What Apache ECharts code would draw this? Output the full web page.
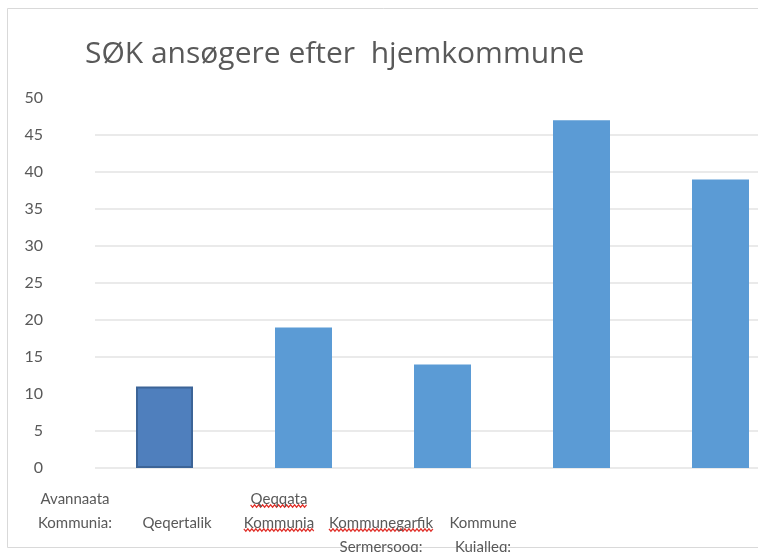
<!DOCTYPE html>
<html>
<head>
<meta charset="utf-8">
<script src="https://cdn.jsdelivr.net/npm/echarts@6/dist/echarts.min.js"></script>
<style>
  html, body { margin: 0; padding: 0; background: #fff; }
  #chart { width: 758px; height: 552px; }
</style>
</head>
<body>
<div id="chart"></div>
<script>
// data
const titleText = 'SØK ansøgere efter  hjemkommune'
const categories = ['Avannaata\nKommunia:', 'Qeqertalik', 'Qeqqata\nKommunia', 'Kommunegarfik\nSermersooq:', 'Kommune\nKujalleq:']
const values = [11, 19, 14, 47, 39]
const labelRowShift = [0, 1, 0, 1, 1] // labels that start one line lower
const yTicks = [0, 5, 10, 15, 20, 25, 30, 35, 40, 45, 50]
const gridValues = [0, 5, 15, 20, 25, 30, 35, 40, 45] // ticks that have a gridline
// words with the red spell-check underline: [category, line, word]
const spellMarks = [[2, 0, 'Qeqqata'], [2, 1, 'Kommunia'], [3, 0, 'Kommunegarfik'], [3, 1, 'Sermersooq']]

const textColor = '#595959'
const barColor = '#5b9bd5'
const gridColor = '#e3e3e3'
const labelFont = 'Lato'
const labelSize = 15
const labelMargin = 19
const lineH = 24

let chart = echarts.init(document.getElementById('chart'), null, { renderer: 'canvas' })

function getOption() {
  return {
    backgroundColor: '#fff',
    animation: false,
    title: {
      text: titleText,
      left: 80,
      top: 34,
      textStyle: { fontFamily: 'Open Sans', fontSize: 30, fontWeight: 'normal', color: textColor }
    },
    grid: [
      // the plot runs past the right edge of the picture
      { left: 95, width: 695, top: 98, bottom: 84, outerBoundsMode: 'none' },
      { left: 24, width: 510, top: 98, bottom: 84, outerBoundsMode: 'none' }
    ],
    xAxis: [
      {
        type: 'category',
        data: categories,
        gridIndex: 0,
        axisLine: { show: false },
        axisTick: { show: false },
        axisLabel: { show: false }
      },
      {
        type: 'category',
        data: categories,
        gridIndex: 1,
        axisLine: { show: false },
        axisTick: { show: false },
        axisLabel: {
          interval: 0,
          hideOverlap: false,
          margin: labelMargin,
          color: textColor,
          fontFamily: labelFont,
          fontSize: labelSize,
          lineHeight: lineH,
          verticalAlign: 'top',
          formatter: (v, i) => '\n'.repeat(labelRowShift[i]) + v
        }
      }
    ],
    yAxis: [
      {
        type: 'value',
        gridIndex: 0,
        min: yTicks[0],
        max: yTicks[yTicks.length - 1],
        interval: yTicks[1] - yTicks[0],
        axisLine: { show: false },
        axisTick: { show: false },
        splitLine: {
          show: true,
          lineStyle: {
            width: 1.5,
            color: yTicks.map(t => gridValues.includes(t) ? gridColor : 'rgba(0,0,0,0)')
          }
        },
        axisLabel: { margin: 52, color: textColor, fontFamily: labelFont, fontSize: 16 }
      },
      { type: 'value', gridIndex: 1, show: false }
    ],
    series: [
      {
        type: 'bar',
        xAxisIndex: 0,
        yAxisIndex: 0,
        barWidth: 57,
        data: values.map((v, i) => i === 0
          ? { value: v, itemStyle: { color: '#4f7fbd', borderColor: '#3c6497', borderWidth: 2 } }
          : v),
        itemStyle: { color: barColor }
      }
    ]
  }
}

chart.setOption(getOption())

// frame and spell-check squiggles
let ctx = document.createElement('canvas').getContext('2d')
ctx.font = labelSize + 'px ' + labelFont
let baseY = chart.convertToPixel({ yAxisIndex: 0 }, 0) + labelMargin
let graphics = [{
  type: 'rect',
  shape: { x: 7.5, y: 8.5, width: 780, height: 539 },
  style: { fill: 'none', stroke: '#d9d9d9', lineWidth: 1 },
  silent: true
}]
spellMarks.forEach(([ci, line, word]) => {
  let full = categories[ci].split('\n')[line]
  let cx = chart.convertToPixel({ xAxisIndex: 1 }, categories[ci])
  let fullW = ctx.measureText(full).width
  let x0 = cx - fullW / 2
  let w = ctx.measureText(word).width
  let y = baseY + (line + labelRowShift[ci]) * lineH + lineH / 2 + 7
  let pts = []
  for (let x = 0, k = 0; x <= w; x += 2, k++) pts.push([x0 + x, y + (k % 2 ? 1.2 : -1.2)])
  graphics.push({
    type: 'polyline',
    shape: { points: pts },
    style: { stroke: '#e0302a', lineWidth: 1.2, fill: 'none' },
    silent: true
  })
})
chart.setOption({ graphic: graphics })
</script>
</body>
</html>
